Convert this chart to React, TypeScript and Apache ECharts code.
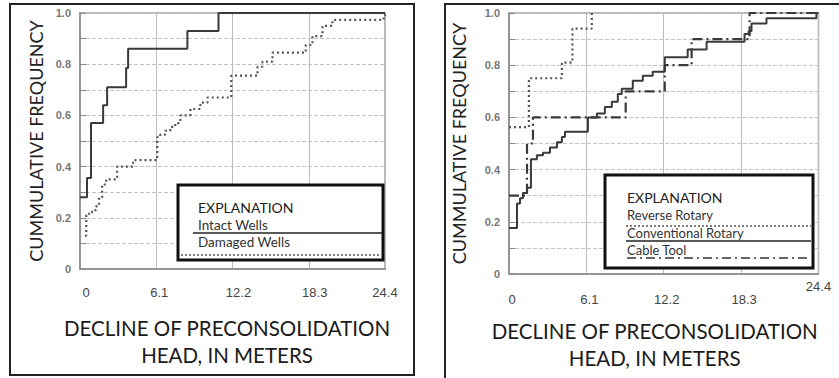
import React, { useEffect, useRef } from "react";
import * as echarts from "echarts";

// x in meters of decline, y = cumulative frequency
const intactWells: number[][] = [
  [0, 0.28], [0.56, 0.355], [0.88, 0.57], [1.85, 0.64], [2.17, 0.71],
  [3.69, 0.785], [3.85, 0.86], [8.59, 0.93], [11.08, 1.0], [24.4, 1.0],
];
const damagedWells: number[][] = [
  [0.4, 0.13], [0.5, 0.21], [0.72, 0.22], [0.96, 0.23], [1.28, 0.245], [1.52, 0.28],
  [1.77, 0.33], [2.09, 0.35], [2.97, 0.4], [4.25, 0.425], [6.18, 0.515], [6.42, 0.525],
  [6.82, 0.54], [7.22, 0.555], [7.62, 0.57], [8.03, 0.6], [8.83, 0.625], [9.63, 0.65],
  [10.2, 0.67], [12.1, 0.755], [14.2, 0.79], [14.6, 0.81], [15.4, 0.845], [18.06, 0.875],
  [18.6, 0.91], [19.4, 0.95], [20.2, 0.973], [24.3, 0.99], [24.4, 1.0],
];
const reverseRotary: number[][] = [
  [0, 0.563], [1.57, 0.75], [4.17, 0.81], [5.0, 0.94], [6.53, 1.0],
];
const conventionalRotary: number[][] = [
  [0, 0.176], [0.63, 0.27], [0.87, 0.29], [1.1, 0.31], [1.42, 0.33], [1.73, 0.44],
  [2.2, 0.455], [2.68, 0.465], [3.23, 0.485], [3.78, 0.505], [4.17, 0.525], [4.41, 0.545],
  [6.22, 0.6], [6.93, 0.615], [7.56, 0.64], [8.11, 0.66], [8.58, 0.69], [8.89, 0.71],
  [9.76, 0.74], [10.55, 0.76], [11.33, 0.775], [12.28, 0.83], [14.09, 0.86], [15.58, 0.89],
  [18.57, 0.92], [18.89, 0.93], [19.12, 0.96], [20.3, 0.98], [24.24, 1.0], [24.4, 1.0],
];
const cableTool: number[][] = [
  [0, 0.3], [1.42, 0.5], [1.89, 0.6], [9.2, 0.7], [12.28, 0.8], [14.4, 0.9], [18.97, 1.0], [24.4, 1.0],
];

const xTickLabels = ["0", "6.1", "12.2", "18.3", "24.4"];
const xMax = 24.4;
const xStep = 6.1;
const yTitle = "CUMMULATIVE FREQUENCY";
const xTitle = "DECLINE OF PRECONSOLIDATION\nHEAD, IN METERS";
const leftLegend = ["EXPLANATION", "Intact Wells", "Damaged Wells"];
const rightLegend = ["EXPLANATION", "Reverse Rotary", "Conventional Rotary", "Cable Tool"];

const TITLE_FONT = "Lato";

function xLabel(v: number) {
  const i = Math.round(v / xStep);
  return xTickLabels[i] ?? "";
}
function yLabel(v: number) {
  const r = Math.round(v * 10);
  if (r % 2) return "";
  return r === 0 ? "0" : (r / 10).toFixed(1);
}

function makeY(gridIndex: number, gap: number) {
  return {
    type: "value",
    gridIndex,
    min: 0,
    max: 1,
    interval: 0.1,
    name: yTitle,
    nameLocation: "middle",
    nameGap: gap,
    nameTextStyle: { fontSize: 18, fontFamily: TITLE_FONT, color: "#222" },
    axisLine: { show: true, lineStyle: { color: "#8a8a8a", width: 1.5 } },
    axisTick: { show: true, inside: true, length: 6, lineStyle: { color: "#888" } },
    axisLabel: {
      formatter: yLabel,
      margin: 9,
      fontSize: 11,
      fontFamily: "Liberation Sans",
      fontWeight: "bold",
      color: "#777",
    },
    splitLine: { show: true, lineStyle: { color: "#c4c4c4", type: [4, 2], width: 1 } },
  };
}

const lineSeries = (name: string, data: number[][], idx: number, type: any, color: string, width: number) => ({
  name,
  type: "line",
  xAxisIndex: idx,
  yAxisIndex: idx,
  data,
  step: "end",
  symbol: "none",
  lineStyle: { color, width, type },
  z: 3,
});

const legendText = (text: string, x: number, y: number, size: number, fill: string) => ({
  type: "text",
  z: 11,
  x,
  y,
  style: { text, fontSize: size, fontFamily: TITLE_FONT, fill, verticalAlign: "middle" },
});

export default function App() {
  const ref = useRef<HTMLDivElement>(null);
  useEffect(() => {
    if (!ref.current) return;
    const chart = echarts.init(ref.current, null, { renderer: "svg" });
    const option: any = {
      animation: false,
      backgroundColor: "#ffffff",
      grid: [
        { left: 80, top: 13, width: 305, height: 256, show: true, borderColor: "#a0a0a0", borderWidth: 1.5 },
        { left: 509, top: 13, width: 310, height: 261, show: true, borderColor: "#a0a0a0", borderWidth: 1.5 },
      ],
      xAxis: [
        {
          type: "value",
          gridIndex: 0,
          min: 0,
          max: xMax,
          interval: xStep,
          name: xTitle,
          nameLocation: "middle",
          nameGap: 45,
          nameTextStyle: { fontSize: 20.5, lineHeight: 27, fontFamily: TITLE_FONT, color: "#1a1a1a", padding: [0, 11, 0, 0] },
          axisLine: { show: true, lineStyle: { color: "#8a8a8a", width: 1.5 } },
          axisTick: { show: false },
          axisLabel: {
            margin: 17,
            fontSize: 13,
            fontFamily: "Liberation Sans",
            color: "#444",
            formatter: (v: number) => {
              const s = xLabel(v);
              if (s === "24.4") return s;
              if (s === "6.1") return `{b|${s}}`;
              return `{a|${s}}`;
            },
            rich: {
              a: { padding: [0, 0, 0, 12], fontSize: 13, fontFamily: "Liberation Sans", color: "#444" },
              b: { padding: [0, 0, 0, 6], fontSize: 13, fontFamily: "Liberation Sans", color: "#444" },
            },
          },
          splitLine: { show: true, lineStyle: { color: "#bdbdbd", width: 1 } },
        },
        {
          type: "value",
          gridIndex: 1,
          min: 0,
          max: xMax,
          interval: xStep,
          name: xTitle,
          nameLocation: "middle",
          nameGap: 43,
          nameTextStyle: { fontSize: 20.5, lineHeight: 27, fontFamily: TITLE_FONT, color: "#1a1a1a", padding: [0, 18, 0, 0] },
          axisLine: { show: true, lineStyle: { color: "#8a8a8a", width: 1.5 } },
          axisTick: { show: false },
          axisLabel: {
            margin: 6,
            fontSize: 13,
            fontFamily: "Liberation Sans",
            color: "#444",
            formatter: (v: number) => {
              const s = xLabel(v);
              if (s === "24.4") return s;
              return `{d|${s}}`;
            },
            rich: {
              d: { padding: [13, 0, 0, 6], fontSize: 13, fontFamily: "Liberation Sans", color: "#444" },
            },
          },
          splitLine: { show: true, lineStyle: { color: "#bdbdbd", width: 1 } },
        },
      ],
      yAxis: [makeY(0, 35), makeY(1, 41)],
      series: [
        lineSeries("Intact Wells", intactWells, 0, "solid", "#3a3a3a", 2),
        lineSeries("Damaged Wells", damagedWells, 0, [2, 3], "#555", 2.2),
        lineSeries("Reverse Rotary", reverseRotary, 1, [2, 3], "#555", 2.2),
        lineSeries("Conventional Rotary", conventionalRotary, 1, "solid", "#3a3a3a", 2),
        lineSeries("Cable Tool", cableTool, 1, [10, 4, 2, 4], "#3a3a3a", 2.2),
      ],
      graphic: [
        { type: "rect", z: 0, silent: true, shape: { x: 10, y: 4, width: 404, height: 371 }, style: { fill: "none", stroke: "#222", lineWidth: 2 } },
        { type: "rect", z: 0, silent: true, shape: { x: 445, y: 4, width: 420, height: 400 }, style: { fill: "none", stroke: "#222", lineWidth: 2 } },
        // left legend
        { type: "rect", z: 10, shape: { x: 178, y: 185, width: 205, height: 75 }, style: { fill: "#fff", stroke: "#111", lineWidth: 3 } },
        legendText(leftLegend[0], 198, 207, 14, "#222"),
        legendText(leftLegend[1], 198, 225, 13.5, "#333"),
        { type: "line", z: 11, shape: { x1: 193, y1: 233, x2: 382, y2: 233 }, style: { stroke: "#222", lineWidth: 1.5 } },
        legendText(leftLegend[2], 198, 242, 13.5, "#333"),
        { type: "line", z: 11, shape: { x1: 181, y1: 255, x2: 381, y2: 255 }, style: { stroke: "#555", lineWidth: 1.5, lineDash: [2, 2] } },
        // right legend
        { type: "rect", z: 10, shape: { x: 605, y: 175, width: 208, height: 93 }, style: { fill: "#fff", stroke: "#111", lineWidth: 3 } },
        legendText(rightLegend[0], 627, 197, 14, "#222"),
        legendText(rightLegend[1], 627, 215, 13, "#333"),
        { type: "line", z: 11, shape: { x1: 626, y1: 226, x2: 811, y2: 226 }, style: { stroke: "#555", lineWidth: 1.5, lineDash: [2, 2] } },
        legendText(rightLegend[2], 627, 233, 13, "#333"),
        { type: "line", z: 11, shape: { x1: 626, y1: 241, x2: 811, y2: 241 }, style: { stroke: "#222", lineWidth: 1.5 } },
        legendText(rightLegend[3], 627, 250, 13, "#333"),
        { type: "line", z: 11, shape: { x1: 627, y1: 258, x2: 811, y2: 258 }, style: { stroke: "#333", lineWidth: 1.5, lineDash: [9, 4, 2, 4] } },
      ],
    };
    chart.setOption(option);
    return () => chart.dispose();
  }, []);
  return (
    <div
      ref={ref}
      style={{ position: "fixed", left: 0, top: 0, width: 839, height: 378, background: "#fff" }}
    />
  );
}
